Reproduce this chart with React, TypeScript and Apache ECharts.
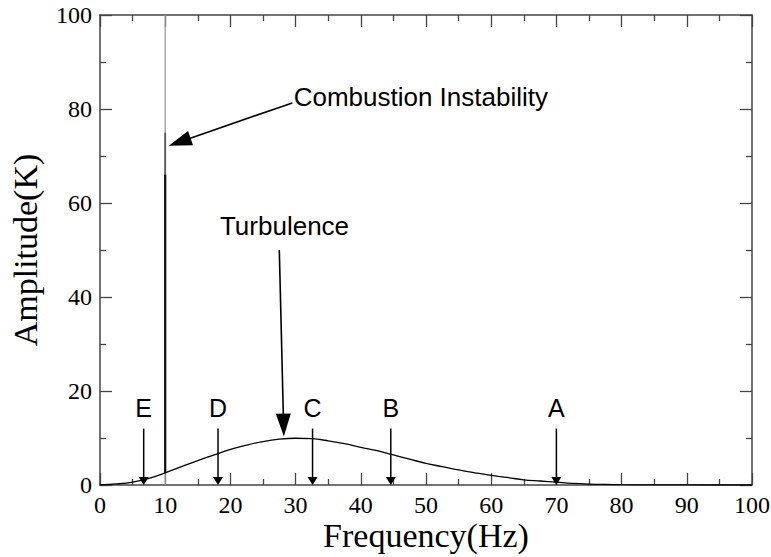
import React, { useEffect, useRef } from "react";
import * as echarts from "echarts";

// Spectrum curve (Frequency Hz -> Amplitude K)
const freq = [0, 2.5, 5, 7.5, 10, 12.5, 15, 17.5, 20, 22.5, 25, 27.5, 30, 32.5, 35, 37.5, 40, 42.5, 45, 47.5, 50, 52.5, 55, 57.5, 60, 62.5, 65, 67.5, 70, 72.5, 75, 77.5, 80, 85, 90, 95, 100];
const amplitude = [0, 0.22, 0.62, 1.4, 2.6, 3.9, 5.2, 6.4, 7.6, 8.5, 9.25, 9.75, 9.95, 9.85, 9.4, 8.8, 8.0, 7.3, 6.4, 5.5, 4.6, 3.9, 3.2, 2.6, 2.05, 1.6, 1.1, 0.85, 0.6, 0.35, 0.2, 0.12, 0.07, 0.03, 0.01, 0, 0];

// Combustion instability spike at 10 Hz
const spikeFreq = 10;
const spikeLevels = [100, 75, 66]; // faint full line, mid, solid
const spikeBase = [0, 2.6, 2.6];

// Marker arrows A–E
const markerLabels = ["E", "D", "C", "B", "A"];
const markerFreq = [6.7, 18.1, 32.6, 44.6, 70.0];
const markerTop = 12;
const markerLabelY = 16.4;

// Callouts
const calloutText = ["Combustion Instability", "Turbulence"];
const calloutLabelPos = [[29.7, 82.6], [28.3, 55.1]];
const calloutTail = [[29.5, 81.3], [27.5, 50]];
const calloutTip = [[10.55, 72.2], [28.2, 10.3]];

const xTicks = { min: 0, max: 100, interval: 10 };
const yTicks = { min: 0, max: 100, interval: 20 };

function arrowShape(api: any, a: number[], b: number[], hl: number, hw: number, lw: number) {
  const p1 = api.coord(a);
  const p2 = api.coord(b);
  const dx = p2[0] - p1[0];
  const dy = p2[1] - p1[1];
  const len = Math.sqrt(dx * dx + dy * dy) || 1;
  const ux = dx / len, uy = dy / len;
  const nx = -uy, ny = ux;
  const bx = p2[0] - ux * hl, by = p2[1] - uy * hl;
  return [
    {
      type: "line",
      shape: { x1: p1[0], y1: p1[1], x2: bx + ux * 1, y2: by + uy * 1 },
      style: { stroke: "#000", lineWidth: lw },
    },
    {
      type: "polygon",
      shape: {
        points: [
          [p2[0], p2[1]],
          [bx + nx * hw / 2, by + ny * hw / 2],
          [bx - nx * hw / 2, by - ny * hw / 2],
        ],
      },
      style: { fill: "#000" },
    },
  ];
}

export default function App() {
  const ref = useRef<HTMLDivElement>(null);
  useEffect(() => {
    if (!ref.current) return;
    const chart = echarts.init(ref.current, undefined, { renderer: "svg" });
    const axisColor = "#444";
    const serif = "Liberation Serif";
    const sans = "Liberation Sans";

    const tickLabel = {
      show: true,
      fontFamily: serif,
      fontSize: 24,
      color: "#000",
    };

    const baseX = {
      type: "value" as const,
      min: xTicks.min,
      max: xTicks.max,
      interval: xTicks.interval,
      axisLine: { show: true, onZero: false, lineStyle: { color: axisColor, width: 1.5 } },
      axisTick: { show: true, inside: true, length: 12, lineStyle: { color: axisColor, width: 1.3 } },
      minorTick: { show: true, splitNumber: 2, length: 6, lineStyle: { color: axisColor, width: 1.3 } },
      splitLine: { show: false },
    };
    const baseY = {
      type: "value" as const,
      min: yTicks.min,
      max: yTicks.max,
      interval: yTicks.interval,
      axisLine: { show: true, onZero: false, lineStyle: { color: axisColor, width: 1.5 } },
      axisTick: { show: true, inside: true, length: 12, lineStyle: { color: axisColor, width: 1.3 } },
      minorTick: { show: true, splitNumber: 2, length: 6, lineStyle: { color: axisColor, width: 1.3 } },
      splitLine: { show: false },
    };

    const markerData = markerFreq.map((f, i) => [f, markerTop, f, 0, i]);
    const calloutData = calloutTail.map((t, i) => [t[0], t[1], calloutTip[i][0], calloutTip[i][1], i]);

    chart.setOption({
      animation: false,
      backgroundColor: "#fff",
      grid: { left: 100, right: 19, top: 15, bottom: 72, containLabel: false, outerBoundsMode: "none" },
      xAxis: [
        {
          ...baseX,
          position: "bottom",
          name: "Frequency(Hz)",
          nameLocation: "middle",
          nameGap: 33,
          nameMoveOverlap: false,
          nameTextStyle: { fontFamily: serif, fontSize: 34, color: "#000" },
          axisLabel: { ...tickLabel, margin: 8 },
        },
        { ...baseX, position: "top", axisLabel: { show: false } },
      ],
      yAxis: [
        {
          ...baseY,
          position: "left",
          name: "Amplitude(K)",
          nameLocation: "middle",
          nameGap: 58,
          nameMoveOverlap: false,
          nameTextStyle: { fontFamily: serif, fontSize: 34, color: "#000" },
          axisLabel: { ...tickLabel, margin: 8 },
        },
        { ...baseY, position: "right", axisLabel: { show: false } },
      ],
      series: [
        {
          type: "line",
          data: [[spikeFreq, spikeBase[0]], [spikeFreq, spikeLevels[0]]],
          showSymbol: false,
          symbol: "none",
          lineStyle: { color: "#9a9a9a", width: 1.3 },
          silent: true,
        },
        {
          type: "line",
          data: [[spikeFreq, spikeBase[1]], [spikeFreq, spikeLevels[1]]],
          showSymbol: false,
          symbol: "none",
          lineStyle: { color: "#5a5a5a", width: 1.8 },
          silent: true,
        },
        {
          type: "line",
          data: [[spikeFreq, spikeBase[2]], [spikeFreq, spikeLevels[2]]],
          showSymbol: false,
          symbol: "none",
          lineStyle: { color: "#111", width: 2.2 },
          silent: true,
        },
        {
          type: "line",
          data: freq.map((f, i) => [f, amplitude[i]]),
          smooth: 0.4,
          showSymbol: false,
          symbol: "none",
          lineStyle: { color: "#000", width: 1.3 },
          silent: true,
        },
        {
          type: "custom",
          data: markerData,
          clip: false,
          silent: true,
          renderItem: (params: any, api: any) => {
            const x = api.value(0);
            const i = api.value(4);
            const lp = api.coord([x, markerLabelY]);
            return {
              type: "group",
              children: [
                ...arrowShape(api, [x, api.value(1)], [api.value(2), api.value(3)], 8, 10, 1.5),
                {
                  type: "text",
                  x: lp[0],
                  y: lp[1],
                  style: {
                    text: markerLabels[i],
                    fontFamily: sans,
                    fontSize: 25,
                    fill: "#000",
                    align: "center",
                    verticalAlign: "middle",
                  },
                },
              ],
            };
          },
        },
        {
          type: "custom",
          data: calloutData,
          clip: false,
          silent: true,
          renderItem: (params: any, api: any) => {
            const i = api.value(4);
            const lp = api.coord(calloutLabelPos[i]);
            return {
              type: "group",
              children: [
                ...arrowShape(api, [api.value(0), api.value(1)], [api.value(2), api.value(3)], 23, 15, 1.6),
                {
                  type: "text",
                  x: lp[0],
                  y: lp[1],
                  style: {
                    text: calloutText[i],
                    fontFamily: sans,
                    fontSize: 26,
                    fill: "#000",
                    align: i === 0 ? "left" : "center",
                    verticalAlign: "middle",
                  },
                },
              ],
            };
          },
        },
      ],
    });
    return () => chart.dispose();
  }, []);
  return (
    <div
      ref={ref}
      style={{ position: "fixed", left: 0, top: 0, width: 771, height: 557 }}
    />
  );
}
